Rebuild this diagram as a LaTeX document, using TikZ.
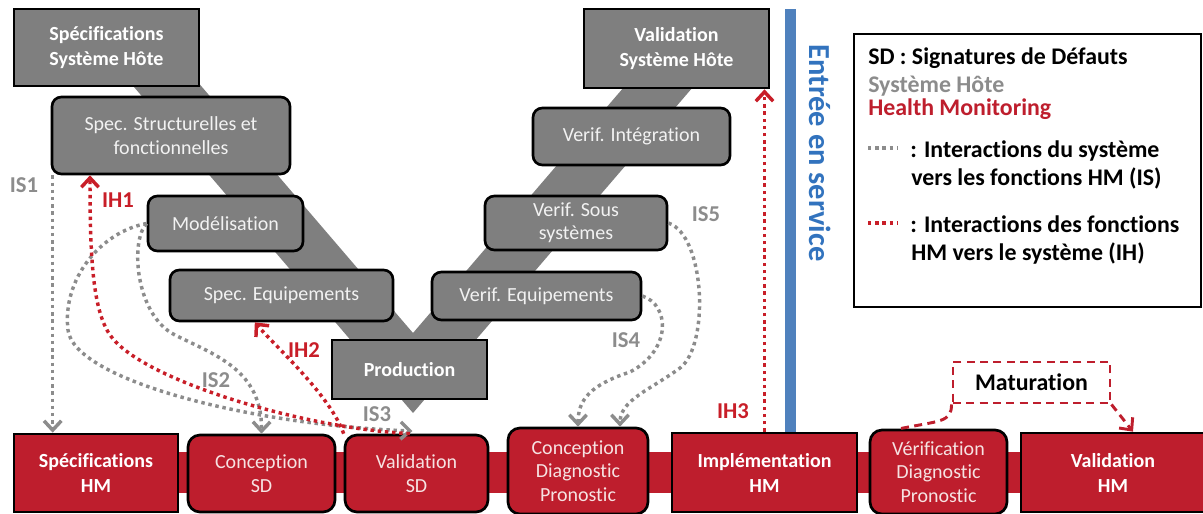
\documentclass[tikz,border=0pt]{standalone}
\usepackage{fontspec}
\setmainfont{Carlito}[Ligatures=NoCommon]
\usepackage{tikz}
\usetikzlibrary{arrows.meta}

\definecolor{sysgray}{RGB}{127,127,127}
\definecolor{hmred}{RGB}{190,30,45}
\definecolor{isgray}{RGB}{140,140,140}
\definecolor{ihred}{RGB}{200,30,40}
\definecolor{esblue}{RGB}{79,129,189}
\definecolor{estext}{RGB}{50,115,190}
\definecolor{pale}{RGB}{242,242,242}
\definecolor{palered}{RGB}{246,226,226}

\begin{document}
\begin{tikzpicture}[x=.75pt, y=-.75pt,
  sys/.style={draw=black, line width=2pt, fill=sysgray, align=center, inner sep=0pt,
    text=pale, font=\fontsize{15}{17.5}\selectfont},
  sysr/.style={sys, rounded corners=7pt},
  sysb/.style={sys, text=white, font=\bfseries\fontsize{15}{18.75}\selectfont},
  hm/.style={draw=black, line width=2pt, fill=hmred, align=center, inner sep=0pt,
    text=palered, font=\fontsize{15}{17.6}\selectfont, rounded corners=9pt},
  hmb/.style={draw=black, line width=2pt, fill=hmred, align=center, inner sep=0pt,
    text=white, font=\bfseries\fontsize{15}{18.75}\selectfont},
  isline/.style={isgray, line width=2.6pt, dash pattern=on 2.6pt off 2.8pt},
  ihline/.style={ihred, line width=2.6pt, dash pattern=on 2.6pt off 2.8pt},
  barb/.style={-{Straight Barb[length=7pt,width=13pt]}},
  lbl/.style={font=\bfseries\fontsize{17}{20}\selectfont, inner sep=0pt},
  lgd/.style={font=\bfseries\fontsize{17.9}{21}\selectfont, inner sep=0pt, anchor=base west}]
\useasboundingbox (0,0) rectangle (1203,514);

% V band and HM band
\fill[sysgray] (128,80) -- (413,413) -- (699,80) -- (630,80) -- (413,333) -- (196,80) -- cycle;
\fill[hmred] (20,452) rectangle (1203,493);
\fill[esblue] (785,9) rectangle (796,435);

% system side
\node[sysb, minimum width=138.75pt, minimum height=57.75pt] (sysspec) at (106.5,47.5) {Spécifications\\Système Hôte};
\node[sysr, minimum width=178.5pt, minimum height=57.75pt] (structspec) at (171,135.5) {Spec. Structurelles et\\fonctionnelles};
\node[sysr, minimum width=116.25pt, minimum height=41.25pt] (model) at (225.5,223.5) {Modélisation};
\node[sysr, minimum width=167.25pt, minimum height=38.25pt] (equipspec) at (281.5,295.5) {Spec. Equipements};
\node[sysb, minimum width=116.25pt, minimum height=44.25pt] (prod) at (409.5,369.5) {Production};
\node[sysr, minimum width=156.75pt, minimum height=36pt] (equipverif) at (536.5,296) {Verif. Equipements};
\node[sysr, minimum width=136.5pt, minimum height=40.5pt] (subverif) at (576,223) {Verif. Sous\\systèmes};
\node[sysr, minimum width=147.75pt, minimum height=42.75pt] (integverif) at (631.5,136.5) {Verif. Intégration};
\node[sysb, minimum width=138.75pt, minimum height=59.25pt] (sysval) at (676.5,48.5) {Validation\\Système Hôte};

% health monitoring side
\node[hmb, minimum width=123pt, minimum height=58.5pt] (hmspec) at (96,473) {Spécifications\\HM};
\node[hm, minimum width=110.25pt, minimum height=57.75pt] (sdconc) at (261.5,473.5) {Conception\\SD};
\node[hm, minimum width=107.25pt, minimum height=57.75pt] (sdval) at (416.5,473.5) {Validation\\SD};
\node[hm, minimum width=105pt, minimum height=64.5pt] (dpconc) at (578,471) {Conception\\Diagnostic\\Pronostic};
\node[hmb, minimum width=138.75pt, minimum height=59.25pt] (hmimpl) at (764.5,472.5) {Implémentation\\HM};
\node[hm, minimum width=102.75pt, minimum height=63pt] (dpverif) at (938.5,472) {Vérification\\Diagnostic\\Pronostic};
\node[hmb, minimum width=138pt, minimum height=59.25pt] (hmval) at (1113,472.5) {Validation\\HM};

\node[rotate=-90, text=estext, font=\bfseries\fontsize{22.9}{27}\selectfont] (es) at (820,153) {Entrée en service};

% maturation
\node[draw=hmred, line width=2.2pt, dash pattern=on 6pt off 4pt, inner sep=0pt,
  minimum width=117.75pt, minimum height=30.75pt, font=\bfseries\fontsize{17.9}{21}\selectfont] (matur) at (1031.5,382.5) {Maturation};
\draw[hmred, line width=2.2pt, dash pattern=on 6pt off 4pt] (matur.south west) .. controls +(0,18) and +(40,-8) .. ([xshift=-29pt]dpverif.north);
\draw[hmred, line width=2.2pt, dash pattern=on 6pt off 4pt, barb] (matur.south east) -- ([xshift=15pt]hmval.north);

% interactions
\draw[isline, barb] ([xshift=1.5pt]structspec.south west) -- ([xshift=1.5pt]structspec.south west |- hmspec.north);
\draw[isline, barb] (model.west) .. controls (130,240) and (135,315) .. (175,335) .. controls (215,355) and (262,370) .. (sdconc.north);
\draw[isline, barb] (model.west) .. controls (100,232) and (62,280) .. (68,330) .. controls (74,380) and (250,425) .. ([xshift=-3pt,yshift=2pt]sdval.north);
\draw[isline, barb] (equipverif.east) .. controls (670,305) and (672,350) .. (630,372) .. controls (590,385) and (578,400) .. (dpconc.north);
\draw[isline, barb] (subverif.east) .. controls (705,235) and (710,345) .. (680,368) .. controls (650,390) and (620,400) .. ([xshift=31.5pt]dpconc.north);
\draw[ihline, barb] ([xshift=-5pt]sdval.north) .. controls (300,428) and (140,379) .. (110,335) .. controls (93,310) and (90,260) .. ([xshift=-60.75pt]structspec.south);
\draw[ihline, barb] (sdval.north west) .. controls (330,395) and (275,346) .. ([xshift=-20pt]equipspec.south);
\draw[ihline, barb] (hmimpl.north) -- (hmimpl.north |- sysval.south);

\foreach \n/\x/\y/\c in {IS1/24/185/isgray, IS2/216/380/isgray, IS3/377/414/isgray, IS4/626/340/isgray,
  IS5/706/214/isgray, IH1/118/200/ihred, IH2/304/350/ihred, IH3/733/411/ihred}
  \node[lbl, text=\c] (\n) at (\x,\y) {\n};

% legend
\node[draw=black, line width=1.5pt, minimum width=260.25pt, minimum height=204.75pt, inner sep=0pt] (lgbox) at (1027.5,170.5) {};
\node[lgd] (lgsd) at (868,64) {SD : Signatures de Défauts};
\node[lgd, text=isgray] (lgsys) at (868,92) {Système Hôte};
\node[lgd, text=hmred] (lghm) at (868,115) {Health Monitoring};
\node[lgd] (lgis) at (910,157) {: Interactions du système};
\node[lgd] (lgis2) at (911,185) {vers les fonctions HM (IS)};
\node[lgd] (lgih) at (910,232) {: Interactions des fonctions};
\node[lgd] (lgih2) at (911,260) {HM vers le système (IH)};
\draw[isline] ([xshift=-31.5pt,yshift=6.75pt]lgis.base west) -- ++(30,0);
\draw[ihline] ([xshift=-31.5pt,yshift=6.75pt]lgih.base west) -- ++(30,0);
\end{tikzpicture}
\end{document}
